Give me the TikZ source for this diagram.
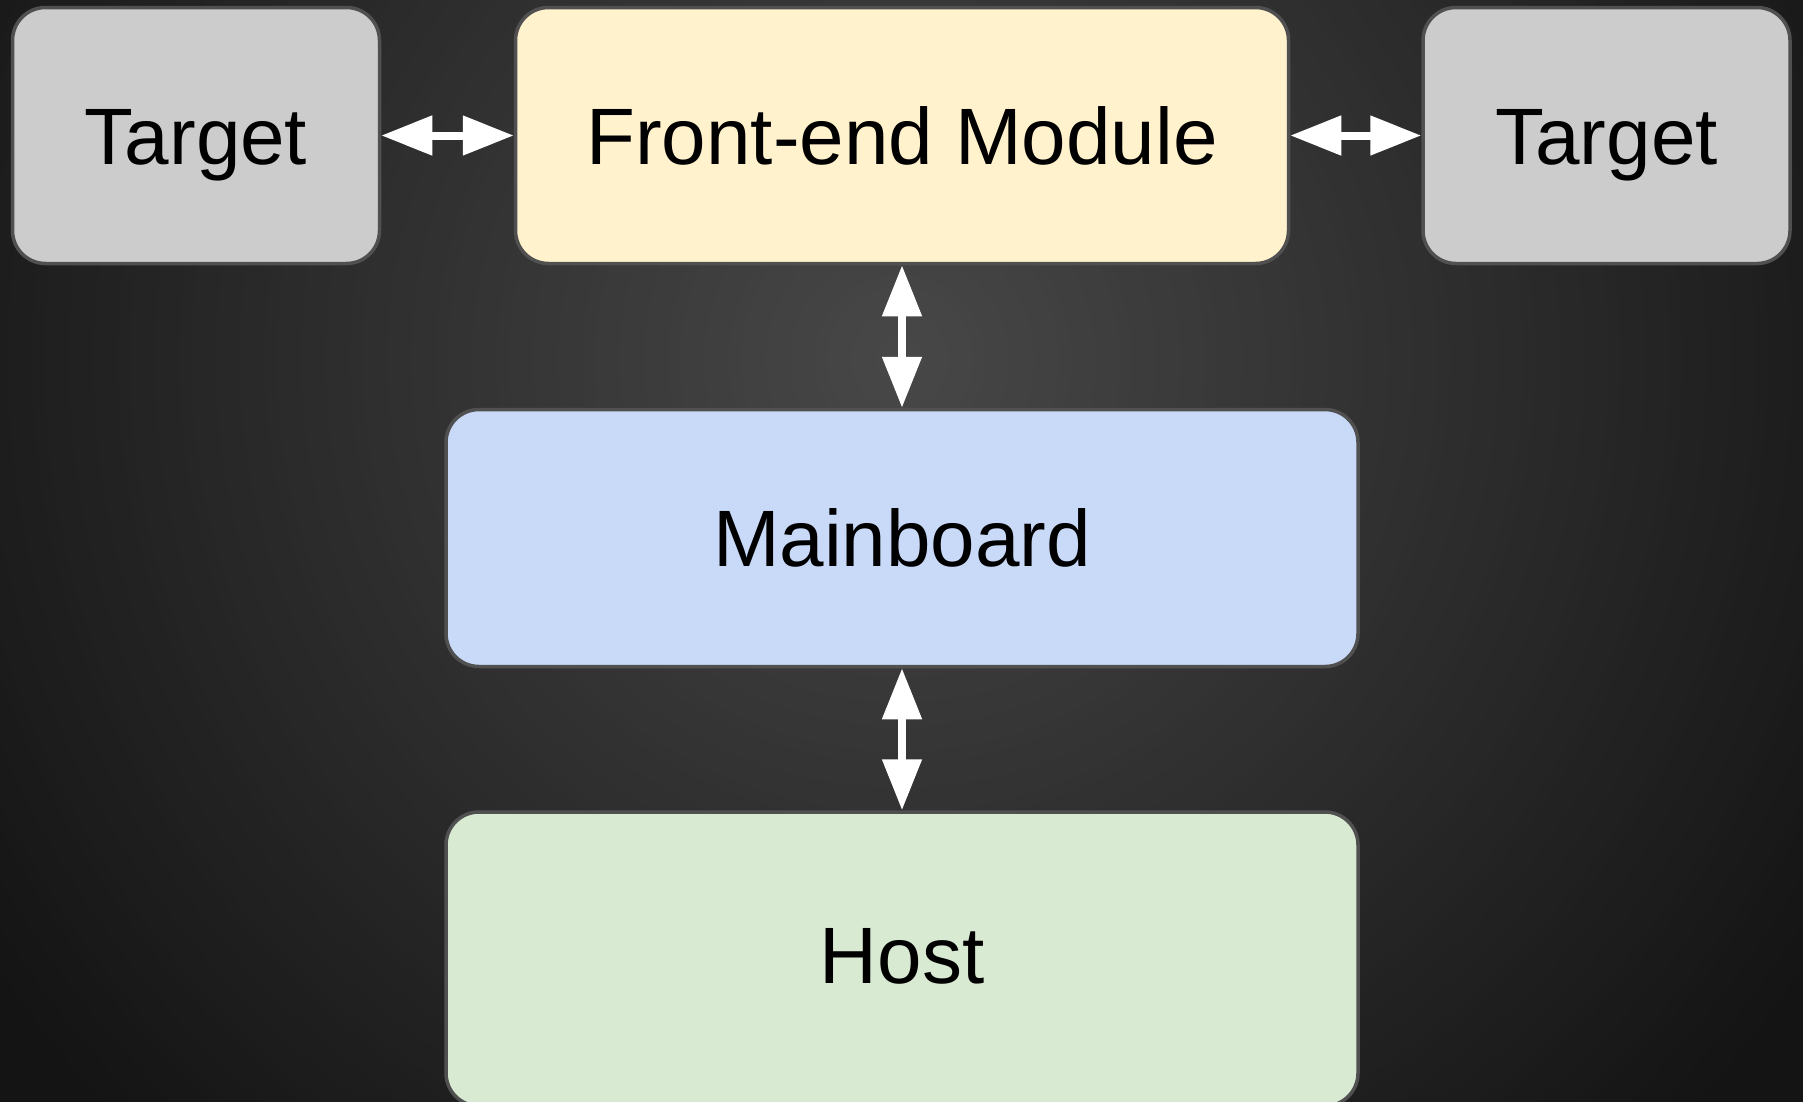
\documentclass[tikz,border=0pt]{standalone}
\usepackage{fontspec}
\setmainfont{Liberation Sans}
\usetikzlibrary{arrows.meta}
\definecolor{bgdark}{HTML}{141414}
\definecolor{bglight}{HTML}{484848}
\definecolor{edge}{HTML}{505050}
\definecolor{targetfill}{HTML}{CCCCCC}
\definecolor{frontfill}{HTML}{FFF2CC}
\definecolor{mainfill}{HTML}{C9DAF8}
\definecolor{hostfill}{HTML}{D9EAD3}
\tikzset{
  block/.style={draw=edge, line width=3.5pt, rounded corners=33pt,
    inner sep=0pt, text height=57pt, text depth=0pt,
    font=\fontsize{80}{96}\selectfont},
  link/.style={draw=white, line width=8pt,
    {Triangle[length=51pt,width=38pt]}-{Triangle[length=51pt,width=38pt]}},
}
\begin{document}
\begin{tikzpicture}[x=1pt,y=-1pt]
  \useasboundingbox (0,0) rectangle (1803,1101);
  % background glow: concentric discs fading from the centre outwards
  \begin{scope}
    \clip (0,0) rectangle (1803,1101);
    \fill[bgdark] (0,0) rectangle (1803,1101);
    \foreach \i [evaluate=\i as \p using {max(0,100-1.1111*\i)},
                 evaluate=\i as \r using {12.2222*\i}] in {100,99,...,1}
      \fill[bglight!\p!bgdark] (900,360) circle (\r);
  \end{scope}

  \node[block, fill=targetfill, minimum width=367pt, minimum height=256pt]
    (tl) at (196,135.5) {Target};
  \node[block, fill=frontfill, minimum width=773pt, minimum height=256pt]
    (fe) at (902,135.5) {Front-end Module};
  \node[block, fill=targetfill, minimum width=367pt, minimum height=256pt]
    (tr) at (1606.5,135.5) {Target};
  \node[block, fill=mainfill, minimum width=912pt, minimum height=257pt]
    (mb) at (902,538) {Mainboard};
  \node[block, fill=hostfill, minimum width=912pt, minimum height=294pt,
    text depth=8pt]
    (host) at (902,959) {Host};

  \draw[link] (tl.east) -- (fe.west);
  \draw[link] (fe.east) -- (tr.west);
  \draw[link] (fe.south) -- (mb.north);
  \draw[link] (mb.south) -- (host.north);
\end{tikzpicture}
\end{document}
